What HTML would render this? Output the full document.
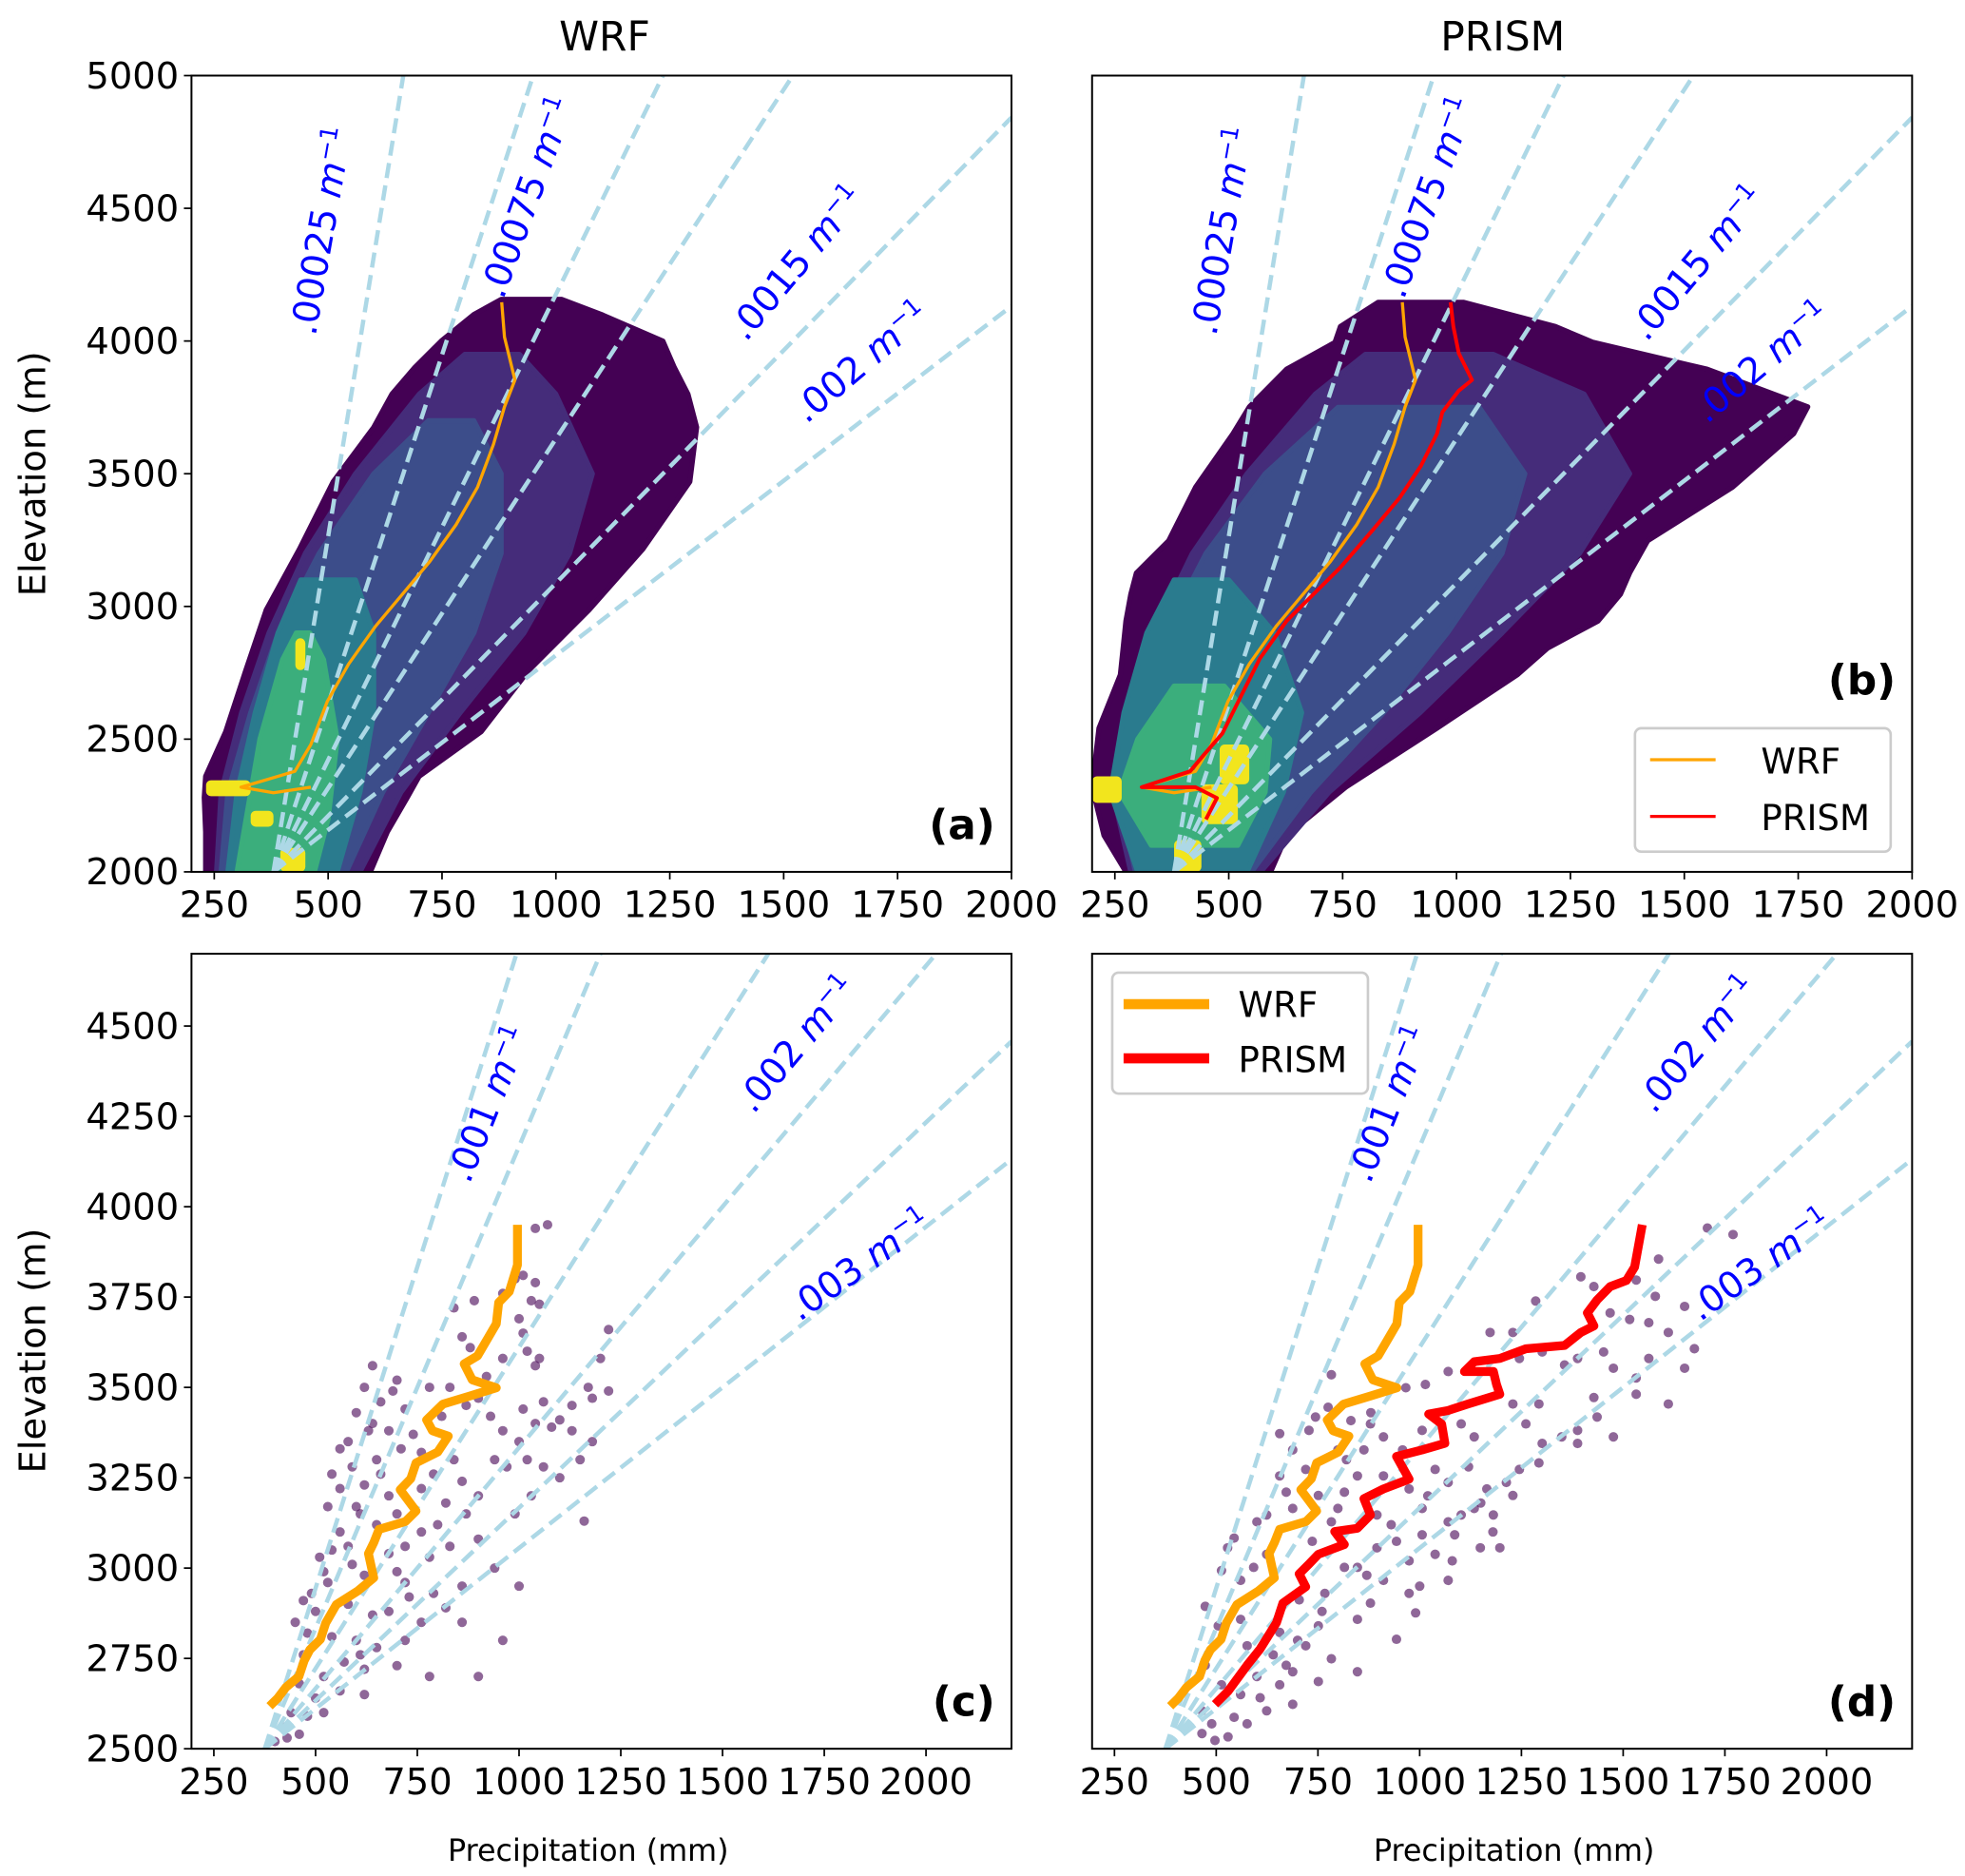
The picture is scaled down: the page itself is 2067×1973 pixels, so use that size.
<!DOCTYPE html>
<html><head><meta charset="utf-8">
<style>
html,body{margin:0;padding:0;background:#fff;}
svg{display:block;}
text{font-family:"DejaVu Sans","Liberation Sans",sans-serif;}
.tick{font-size:29px;fill:#000;}
.lbl{font-size:29px;fill:#0000ff;}
</style></head>
<body>
<svg id="fig" width="2067" height="1973" viewBox="0 0 1560 1489" preserveAspectRatio="none" xmlns="http://www.w3.org/2000/svg">
<defs>
<clipPath id="clipA"><rect x="152" y="60" width="651" height="632"/></clipPath>
<clipPath id="clipB"><rect x="867" y="60" width="651" height="632"/></clipPath>
<clipPath id="clipC"><rect x="152" y="757" width="651" height="631"/></clipPath>
<clipPath id="clipD"><rect x="867" y="757" width="651" height="631"/></clipPath>
</defs>
<g id="layerA" clip-path="url(#clipA)"></g>
<g id="layerB" clip-path="url(#clipB)"></g>
<g id="layerC" clip-path="url(#clipC)"></g>
<g id="layerD" clip-path="url(#clipD)"></g>
<g id="axes"></g>

<text x="480" y="40" font-size="32" text-anchor="middle">WRF</text>
<text x="1193" y="40" font-size="32" text-anchor="middle">PRISM</text>
<text transform="translate(36,376) rotate(-90)" font-size="29" text-anchor="middle">Elevation (m)</text>
<text transform="translate(36,1072) rotate(-90)" font-size="29" text-anchor="middle">Elevation (m)</text>
<text x="467" y="1477" font-size="24" text-anchor="middle">Precipitation (mm)</text>
<text x="1202" y="1477" font-size="24" text-anchor="middle">Precipitation (mm)</text>

<g>
<text class="lbl" transform="translate(265,185) rotate(-80)" text-anchor="middle">.00025 <tspan font-style="italic">m</tspan><tspan font-size="19" dy="-11">−1</tspan></text>
<text class="lbl" transform="translate(428,160) rotate(-70)" text-anchor="middle">.00075 <tspan font-style="italic">m</tspan><tspan font-size="19" dy="-11">−1</tspan></text>
<text class="lbl" transform="translate(640,215) rotate(-50)" text-anchor="middle">.0015 <tspan font-style="italic">m</tspan><tspan font-size="19" dy="-11">−1</tspan></text>
<text class="lbl" transform="translate(690,295) rotate(-40)" text-anchor="middle">.002   <tspan font-style="italic">m</tspan><tspan font-size="19" dy="-11">−1</tspan></text>
</g>
<g>
<text class="lbl" transform="translate(980,185) rotate(-80)" text-anchor="middle">.00025 <tspan font-style="italic">m</tspan><tspan font-size="19" dy="-11">−1</tspan></text>
<text class="lbl" transform="translate(1143,160) rotate(-70)" text-anchor="middle">.00075 <tspan font-style="italic">m</tspan><tspan font-size="19" dy="-11">−1</tspan></text>
<text class="lbl" transform="translate(1355,215) rotate(-50)" text-anchor="middle">.0015 <tspan font-style="italic">m</tspan><tspan font-size="19" dy="-11">−1</tspan></text>
<text class="lbl" transform="translate(1405,295) rotate(-40)" text-anchor="middle">.002   <tspan font-style="italic">m</tspan><tspan font-size="19" dy="-11">−1</tspan></text>
</g>
<g>
<text class="lbl" transform="translate(397,880) rotate(-68)" text-anchor="middle">.001 <tspan font-style="italic">m</tspan><tspan font-size="19" dy="-11">−1</tspan></text>
<text class="lbl" transform="translate(640,835) rotate(-50)" text-anchor="middle">.002 <tspan font-style="italic">m</tspan><tspan font-size="19" dy="-11">−1</tspan></text>
<text class="lbl" transform="translate(688,1012) rotate(-35)" text-anchor="middle">.003 <tspan font-style="italic">m</tspan><tspan font-size="19" dy="-11">−1</tspan></text>
</g>
<g>
<text class="lbl" transform="translate(1112,880) rotate(-68)" text-anchor="middle">.001 <tspan font-style="italic">m</tspan><tspan font-size="19" dy="-11">−1</tspan></text>
<text class="lbl" transform="translate(1355,835) rotate(-50)" text-anchor="middle">.002 <tspan font-style="italic">m</tspan><tspan font-size="19" dy="-11">−1</tspan></text>
<text class="lbl" transform="translate(1403,1012) rotate(-35)" text-anchor="middle">.003 <tspan font-style="italic">m</tspan><tspan font-size="19" dy="-11">−1</tspan></text>
</g>

<text x="790" y="666" font-size="33" font-weight="bold" text-anchor="end">(a)</text>
<text x="1505" y="551" font-size="33" font-weight="bold" text-anchor="end">(b)</text>
<text x="790" y="1362" font-size="33" font-weight="bold" text-anchor="end">(c)</text>
<text x="1505" y="1362" font-size="33" font-weight="bold" text-anchor="end">(d)</text>

<g>
<rect x="1298" y="578" width="203" height="98" rx="5" fill="#fff" fill-opacity="0.85" stroke="#cccccc" stroke-width="2"/>
<line x1="1310" y1="603" x2="1362" y2="603" stroke="#ffa500" stroke-width="2.5"/>
<text x="1398" y="614" font-size="28">WRF</text>
<line x1="1310" y1="648" x2="1362" y2="648" stroke="#ff0000" stroke-width="2.5"/>
<text x="1398" y="659" font-size="28">PRISM</text>
</g>
<g>
<rect x="883" y="772" width="203" height="96" rx="5" fill="#fff" fill-opacity="0.85" stroke="#cccccc" stroke-width="2"/>
<line x1="892" y1="797" x2="960" y2="797" stroke="#ffa500" stroke-width="8"/>
<text x="983" y="807" font-size="28">WRF</text>
<line x1="892" y1="840" x2="960" y2="840" stroke="#ff0000" stroke-width="8"/>
<text x="983" y="851" font-size="28">PRISM</text>
</g>
</svg>

<script>
// ---------- data ----------
const xTicksTop = [250,500,750,1000,1250,1500,1750,2000];
const yTicksTop = [2000,2500,3000,3500,4000,4500,5000];
const xTicksBot = [250,500,750,1000,1250,1500,1750,2000];
const yTicksBot = [2500,2750,3000,3250,3500,3750,4000,4250,4500];

const gradTop = [0.00025,0.0005,0.00075,0.001,0.0015,0.002];
const gradBot = [0.00075,0.001,0.0015,0.002,0.0025,0.003];

// hexbin density envelopes (elevation, left precip, right precip)
const hexA0z = [2000,2150,2280,2360,2528,2758,2987,3216,3470,3675,3800,3900,4000,4100,4157];
const hexA0l = [231,231,228,231,275,319,364,437,511,600,640,690,748,820,880];
const hexA0r = [593,630,674,700,836,940,1073,1191,1294,1309,1290,1260,1235,1100,1013];
const hexA1z = [2000,2300,2600,2900,3200,3500,3800,3950];
const hexA1l = [255,265,310,370,450,560,700,800];
const hexA1r = [570,660,790,930,1030,1080,1000,920];
const hexA15z = [2000,2300,2600,2900,3200,3500,3700];
const hexA15l = [265,280,330,390,480,600,720];
const hexA15r = [540,620,720,820,880,880,820];
const hexA2z = [2000,2300,2600,2900,3100];
const hexA2l = [280,300,340,390,440];
const hexA2r = [520,570,600,600,560];
const hexA3z = [2000,2200,2500,2800,2900];
const hexA3l = [300,320,350,400,430];
const hexA3r = [470,500,520,490,460];

const hexB0z = [2000,2137,2319,2541,2743,2843,2945,3046,3126,3248,3449,3651,3752,3894,3995,4055,4146];
const hexB0l = [274,226,200,215,262,268,274,285,297,368,427,509,545,627,733,745,828];
const hexB0r = [592,627,757,957,1134,1200,1311,1360,1380,1420,1606,1740,1771,1550,1300,1217,1016];
const hexB1z = [2000,2300,2600,2900,3200,3500,3800,3950];
const hexB1l = [285,245,285,335,420,540,690,800];
const hexB1r = [570,720,920,1100,1270,1380,1280,1080];
const hexB15z = [2000,2300,2600,2900,3200,3500,3750];
const hexB15l = [295,255,300,360,450,580,740];
const hexB15r = [550,680,840,980,1100,1150,1050];
const hexB2z = [2000,2300,2600,2900,3100];
const hexB2l = [300,240,270,320,380];
const hexB2r = [540,620,660,600,500];
const hexB3z = [2100,2300,2500,2700];
const hexB3l = [330,260,300,380];
const hexB3r = [520,580,590,490];

// yellow high-density patches: [xmin,xmax,zmin,zmax]
const yellowA = [[232,330,2285,2345],[395,450,2000,2090],[428,450,2760,2880],[330,380,2170,2230]];
const yellowB = [[200,265,2260,2360],[440,520,2180,2330],[480,545,2330,2480],[380,440,2000,2120]];

// mean profiles
const wrfX = [881,887,910,887,863,828,781,722,663,604,545,498,462,427,368,309,380,462];
const wrfZ = [4146,4015,3853,3752,3611,3449,3308,3167,3046,2925,2783,2642,2480,2379,2349,2319,2298,2319];
const prismX = [987,993,1005,1034,1005,969,957,922,875,816,745,686,627,568,521,486,445,415,309,427,474,450];
const prismZ = [4146,4055,3954,3853,3813,3732,3651,3530,3409,3288,3147,3046,2945,2803,2642,2521,2440,2379,2319,2319,2278,2198];

const wrfStX = [996,996,976,950,944,898,865,885,944,878,813,773,787,826,800,747,734,708,747,721,656,643,630,643,603,551,525,512,486,472,459,427,407,387];
const wrfStZ = [3950,3839,3765,3735,3676,3587,3565,3521,3499,3476,3454,3410,3380,3365,3321,3291,3247,3217,3158,3129,3107,3070,3040,2973,2936,2899,2848,2803,2774,2744,2700,2670,2640,2618];
const prismStX = [1547,1528,1508,1468,1436,1412,1428,1396,1356,1261,1197,1134,1110,1181,1189,1197,1118,1070,1022,1054,1062,1006,943,974,911,863,879,847,791,815,751,728,704,720,664,648,608,576,529,497];
const prismStZ = [3950,3833,3796,3779,3742,3706,3670,3652,3616,3607,3580,3571,3544,3544,3508,3481,3454,3436,3426,3399,3345,3327,3309,3246,3219,3192,3147,3110,3101,3065,3038,3011,2984,2948,2903,2849,2776,2731,2659,2623];

// station scatter (c)
const stCX = [1070,1040,990,1010,1040,960,1030,1050,1000,1010,1020,1050,1040,890,840,860,880,920,960,1220,1200,1170,1220,1180,1130,1100,1060,1080,1010,1040,1000,960,930,900,940,970,1020,1060,1100,1030,990,1150,1130,1180,870,830,780,700,640,620,660,720,600,630,580,680,740,710,650,590,620,560,530,600,680,760,790,840,860,900,870,820,800,760,720,680,650,560,540,510,590,620,700,780,830,900,940,860,790,730,680,640,580,530,500,480,540,600,650,720,760,820,860,700,620,570,520,470,460,500,560,620,440,480,520,420,460,400,430,960,1000,900,780,1160,660,700,610,560,760,810,690,640,580,520,490,540,470,450,610,720];
const stCZ = [3950,3940,3800,3810,3790,3760,3740,3730,3690,3650,3600,3580,3560,3740,3720,3640,3610,3530,3580,3660,3580,3500,3490,3470,3450,3410,3460,3390,3440,3400,3350,3380,3420,3470,3300,3280,3300,3280,3250,3200,3150,3300,3380,3350,3450,3500,3500,3520,3560,3500,3460,3440,3430,3380,3350,3380,3370,3330,3300,3280,3230,3220,3170,3170,3200,3220,3260,3300,3240,3200,3150,3180,3120,3100,3060,3040,3120,3100,3050,3030,3010,2980,2990,3030,3060,3080,3000,2950,2930,2920,2880,2870,2900,2960,2880,2820,2810,2800,2780,2800,2850,2890,2850,2730,2720,2740,2700,2760,2680,2640,2660,2650,2600,2590,2600,2560,2540,2520,2530,2800,2950,2700,2700,3130,3260,3150,3150,3330,3320,3420,3490,3400,3060,2990,2930,3260,2910,2850,2760,2960];
// station scatter (d)
const stDX = [1707,1770,1587,1396,1532,1428,1579,1651,1468,1285,1516,1563,1611,1675,1651,1611,1532,1476,1452,1388,1356,1301,1245,1173,1229,1070,1014,966,783,775,744,728,656,688,720,656,672,688,624,600,544,528,513,560,473,505,473,513,465,489,465,497,529,544,831,879,911,958,1006,1102,1134,1229,1261,1293,1301,1349,1388,1428,1436,1476,1388,1293,1245,1213,1165,1229,1134,1102,1070,1181,1197,1149,1086,1038,974,943,895,847,815,799,911,974,879,847,815,767,751,720,783,688,656,608,624,576,1070,990,943,847,751,688,672,576,560,656,704,624,592,736,783,751,799,863,911,974,1006,1038,1070,1006,895,847,1532,1563,930,1020,1120,1180,870,760,700,640,600,560,1000,1080,1150,820,880];
const stDZ = [3941,3923,3855,3806,3797,3779,3752,3724,3706,3739,3688,3679,3652,3607,3553,3454,3481,3553,3598,3580,3562,3598,3580,3652,3652,3544,3508,3499,3535,3445,3418,3381,3372,3327,3273,3255,3210,3165,3147,3128,3083,3056,2993,2966,2894,2840,2731,2677,2605,2569,2542,2523,2533,2587,3408,3399,3363,3327,3381,3399,3363,3454,3399,3454,3345,3363,3381,3472,3418,3363,3345,3291,3273,3237,3219,3201,3165,3147,3128,3147,3056,3056,3092,3038,3020,3074,3147,3255,3210,3165,2966,2930,2903,2858,3002,2930,2840,2785,2749,2713,2677,2641,2605,2569,2966,2876,2803,2713,2686,2623,2731,2785,2858,2822,2912,3038,3002,3074,3128,3201,3327,3327,3255,3219,3165,3273,3237,3092,3056,3002,3526,3580,3120,3200,3280,3100,2980,2880,2800,2760,2700,2650,2950,3020,3180,3300,3430];

// ---------- geometry ----------
const PA = {x0:152,x1:803,y0:60,y1:692,xmin:200,xmax:2000,zmin:2000,zmax:5000};
const PB = {x0:867,x1:1518,y0:60,y1:692,xmin:200,xmax:2000,zmin:2000,zmax:5000};
const PC = {x0:152,x1:803,y0:757,y1:1388,xmin:195,xmax:2210,zmin:2500,zmax:4700};
const PD = {x0:867,x1:1518,y0:757,y1:1388,xmin:195,xmax:2210,zmin:2500,zmax:4700};
const NS = "http://www.w3.org/2000/svg";

function sx(p,x){return p.x0+(x-p.xmin)/(p.xmax-p.xmin)*(p.x1-p.x0);}
function sy(p,z){return p.y1-(z-p.zmin)/(p.zmax-p.zmin)*(p.y1-p.y0);}
function mk(tag,attrs,parent){const e=document.createElementNS(NS,tag);for(const k in attrs)e.setAttribute(k,attrs[k]);parent.appendChild(e);return e;}

function envelope(g,p,zs,ls,rs,color,name){
  const pts=[];
  for(let i=0;i<zs.length;i++)pts.push(sx(p,ls[i]).toFixed(1)+","+sy(p,zs[i]).toFixed(1));
  for(let i=zs.length-1;i>=0;i--)pts.push(sx(p,rs[i]).toFixed(1)+","+sy(p,zs[i]).toFixed(1));
  const e=mk('polygon',{points:pts.join(' '),fill:color,'stroke':color,'stroke-width':4,'stroke-linejoin':'round'},g);
  
  
}
function patches(g,p,list,color,name){
  list.forEach(b=>{
    const e=mk('rect',{x:sx(p,b[0]),y:sy(p,b[3]),width:sx(p,b[1])-sx(p,b[0]),height:sy(p,b[2])-sy(p,b[3]),fill:color,rx:4},g);
    
    
  });
}
function gradLines(g,p,ks,P0,z0){
  ks.forEach(k=>{
    let zEnd=p.zmax;
    const zx=z0+(p.xmax/P0-1)/k;
    if(zx<zEnd)zEnd=zx;
    const e=mk('line',{x1:sx(p,P0),y1:sy(p,z0),x2:sx(p,P0*(1+k*(zEnd-z0))),y2:sy(p,zEnd),stroke:'#add8e6','stroke-width':3.4,'stroke-dasharray':'12,6'},g);
    
    
  });
}
function profile(g,p,xs,zs,color,w,name){
  const pts=xs.map((x,i)=>sx(p,x).toFixed(1)+","+sy(p,zs[i]).toFixed(1)).join(' ');
  const e=mk('polyline',{points:pts,fill:'none',stroke:color,'stroke-width':w,'stroke-linejoin':'round','stroke-linecap':'butt'},g);
  
  
}
function scatter(g,p,xs,zs,name){
  xs.forEach((x,i)=>{
    const e=mk('circle',{cx:sx(p,x),cy:sy(p,zs[i]),r:3.8,fill:'#440154','fill-opacity':0.6},g);
    
    
  });
}
function axes(p,xt,yt,showY,name){
  const ax=document.getElementById('axes');
  xt.forEach(v=>{
    const x=sx(p,v);
    const t=mk('line',{x1:x,y1:p.y1,x2:x,y2:p.y1+6,stroke:'#000','stroke-width':1.3},ax);
    
    
    const l=mk('text',{x:x,y:p.y1+36,'text-anchor':'middle','class':'tick'},ax);
    l.textContent=v;
    
    
  });
  if(showY){
    yt.forEach(v=>{
      const y=sy(p,v);
      const t=mk('line',{x1:p.x0-6,y1:y,x2:p.x0,y2:y,stroke:'#000','stroke-width':1.3},ax);
      
      
      const l=mk('text',{x:p.x0-10,y:y+10,'text-anchor':'end','class':'tick'},ax);
      l.textContent=v;
      
      
    });
  }
  const f=mk('rect',{x:p.x0,y:p.y0,width:p.x1-p.x0,height:p.y1-p.y0,fill:'none',stroke:'#000','stroke-width':1.5},ax);
  
  
}

// panel a
const gA=document.getElementById('layerA');
envelope(gA,PA,hexA0z,hexA0l,hexA0r,'#440154','hexbin-low');
envelope(gA,PA,hexA1z,hexA1l,hexA1r,'#452c7a','hexbin-lowmid');
envelope(gA,PA,hexA15z,hexA15l,hexA15r,'#3c4d8a','hexbin-mid');
envelope(gA,PA,hexA2z,hexA2l,hexA2r,'#2a7b8e','hexbin-midhigh');
envelope(gA,PA,hexA3z,hexA3l,hexA3r,'#3bae7c','hexbin-high');
patches(gA,PA,yellowA,'#f2e51d','hexbin-peak');
gradLines(gA,PA,gradTop,380,2000);
profile(gA,PA,wrfX,wrfZ,'#ffa500',2.5,'wrf-profile-a');

// panel b
const gB=document.getElementById('layerB');
envelope(gB,PB,hexB0z,hexB0l,hexB0r,'#440154','hexbin-low');
envelope(gB,PB,hexB1z,hexB1l,hexB1r,'#452c7a','hexbin-lowmid');
envelope(gB,PB,hexB15z,hexB15l,hexB15r,'#3c4d8a','hexbin-mid');
envelope(gB,PB,hexB2z,hexB2l,hexB2r,'#2a7b8e','hexbin-midhigh');
envelope(gB,PB,hexB3z,hexB3l,hexB3r,'#3bae7c','hexbin-high');
patches(gB,PB,yellowB,'#f2e51d','hexbin-peak');
gradLines(gB,PB,gradTop,380,2000);
profile(gB,PB,wrfX,wrfZ,'#ffa500',2.5,'wrf-profile-b');
profile(gB,PB,prismX,prismZ,'#ff0000',3,'prism-profile-b');

// panel c
const gC=document.getElementById('layerC');
scatter(gC,PC,stCX,stCZ,'station-point');
gradLines(gC,PC,gradBot,375,2500);
profile(gC,PC,wrfStX,wrfStZ,'#ffa500',7,'wrf-station-profile-c');

// panel d
const gD=document.getElementById('layerD');
scatter(gD,PD,stDX,stDZ,'station-point');
gradLines(gD,PD,gradBot,375,2500);
profile(gD,PD,wrfStX,wrfStZ,'#ffa500',7,'wrf-station-profile-d');
profile(gD,PD,prismStX,prismStZ,'#ff0000',7,'prism-station-profile-d');

axes(PA,xTicksTop,yTicksTop,true,'axes-frame-a');
axes(PB,xTicksTop,yTicksTop,false,'axes-frame-b');
axes(PC,xTicksBot,yTicksBot,true,'axes-frame-c');
axes(PD,xTicksBot,yTicksBot,false,'axes-frame-d');
</script>
</body></html>
